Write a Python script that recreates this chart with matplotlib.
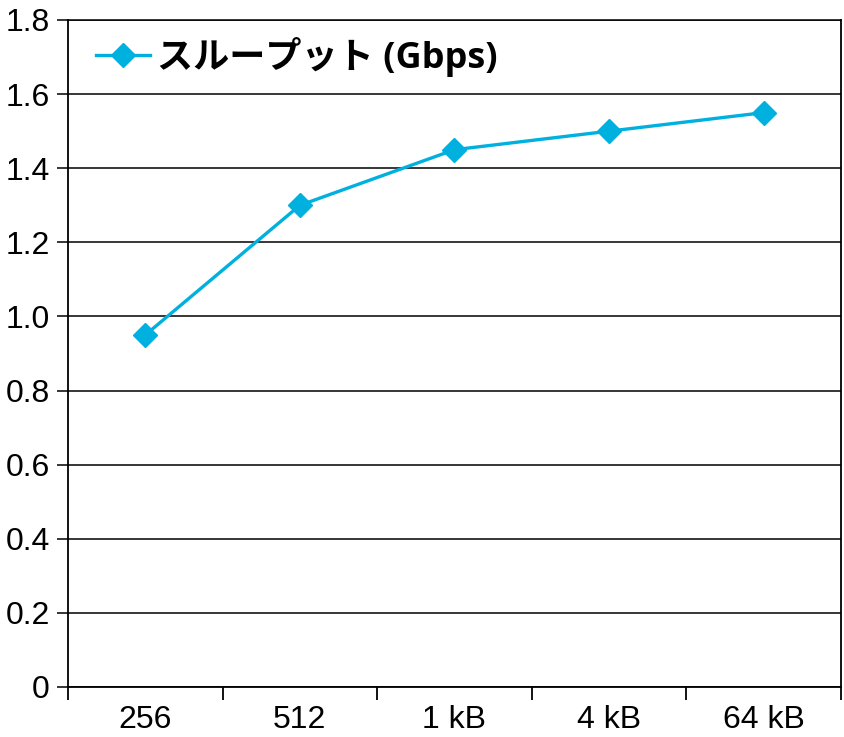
import matplotlib
matplotlib.use("Agg")
import matplotlib.pyplot as plt
from matplotlib.ticker import FixedLocator, NullFormatter

categories = ["256", "512", "1 kB", "4 kB", "64 kB"]
throughput = [0.95, 1.30, 1.45, 1.50, 1.55]
series_name = "スループット (Gbps)"
y_ticks = [0, 0.2, 0.4, 0.6, 0.8, 1.0, 1.2, 1.4, 1.6, 1.8]
y_labels = ["0", "0.2", "0.4", "0.6", "0.8", "1.0", "1.2", "1.4", "1.6", "1.8"]

color = "#00B0DF"

fig = plt.figure(figsize=(8.45, 7.37), dpi=100)
ax = fig.add_axes([68 / 845, 50 / 737, 773 / 845, 667 / 737])

x = list(range(len(categories)))
ax.plot(x, throughput, color=color, lw=2.4, marker="D", markersize=12,
        label=series_name, zorder=3, clip_on=False)

ax.set_xlim(-0.5, len(categories) - 0.5)
ax.set_ylim(0, 1.8)

ax.set_yticks(y_ticks)
ax.set_yticklabels(y_labels, fontfamily="Liberation Sans", fontsize=23)
ax.yaxis.grid(True, color="black", lw=1.1)
ax.set_axisbelow(True)

# category labels centred, tick marks on the boundaries
ax.xaxis.set_major_locator(FixedLocator([i - 0.5 for i in range(len(categories) + 1)]))
ax.xaxis.set_major_formatter(NullFormatter())
ax.xaxis.set_minor_locator(FixedLocator(x))
ax.set_xticklabels(categories, minor=True, fontfamily="Liberation Sans", fontsize=23)
ax.tick_params(axis="x", which="minor", length=0, pad=13)
ax.tick_params(axis="x", which="major", length=9, width=1.3, direction="out")
ax.tick_params(axis="y", length=8, width=1.1, pad=5)

for s in ax.spines.values():
    s.set_color("black")
    s.set_linewidth(1.3)
ax.spines["top"].set_linewidth(1.1)

leg = ax.legend(loc="upper left", bbox_to_anchor=(0.036, 0.975),
                frameon=False, borderpad=0, borderaxespad=0,
                handlelength=1.5, handletextpad=0.2,
                prop={"family": ["Open Sans", "Noto Sans CJK JP"],
                      "weight": "bold", "size": 26})

fig.savefig("out.png", dpi=100)
